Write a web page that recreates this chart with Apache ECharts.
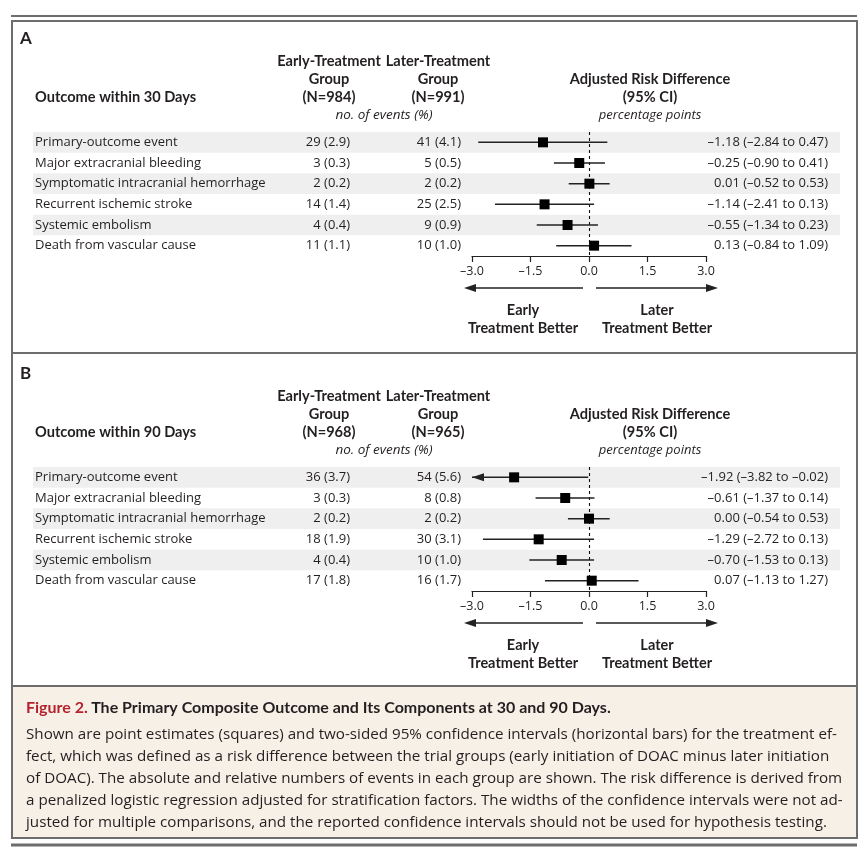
<!DOCTYPE html>
<html><head><meta charset="utf-8">
<script src="https://cdn.jsdelivr.net/npm/echarts@6/dist/echarts.min.js"></script>
<style>html,body{margin:0;padding:0;background:#fff}#c{width:865px;height:855px}</style>
</head><body><div id="c"></div>
<script>
// ---------- data ----------
const outcomes = ['Primary-outcome event','Major extracranial bleeding','Symptomatic intracranial hemorrhage','Recurrent ischemic stroke','Systemic embolism','Death from vascular cause'];
// Panel A: 30 days
const earlyEventsA = [29,3,2,14,4,11];
const earlyPctA    = [2.9,0.3,0.2,1.4,0.4,1.1];
const laterEventsA = [41,5,2,25,9,10];
const laterPctA    = [4.1,0.5,0.2,2.5,0.9,1.0];
const estA = [-1.18,-0.25,0.01,-1.14,-0.55,0.13];
const loA  = [-2.84,-0.90,-0.52,-2.41,-1.34,-0.84];
const hiA  = [0.47,0.41,0.53,0.13,0.23,1.09];
// Panel B: 90 days
const earlyEventsB = [36,3,2,18,4,17];
const earlyPctB    = [3.7,0.3,0.2,1.9,0.4,1.8];
const laterEventsB = [54,8,2,30,10,16];
const laterPctB    = [5.6,0.8,0.2,3.1,1.0,1.7];
const estB = [-1.92,-0.61,0.00,-1.29,-0.70,0.07];
const loB  = [-3.82,-1.37,-0.54,-2.72,-1.53,-1.13];
const hiB  = [-0.02,0.14,0.53,0.13,0.13,1.27];
// axis
const tickValues = [-3,-1.5,0,1.5,3];
const tickLabels = ['–3.0','–1.5','0.0','1.5','3.0'];
const nA = [984,991];
const nB = [968,965];

// ---------- styles ----------
const FR = '"Open Sans", "Noto Sans", sans-serif';
const FB = 'Lato, "DejaVu Sans Condensed", sans-serif';
const FC = '"Open Sans", "Noto Sans", sans-serif';
const TXT = '#231f20';
const HB = 'bold 14.6px ' + FB;
const fmtCount = (n,p) => n + ' (' + p.toFixed(1) + ')';
const d2 = v => (v < 0 ? '–' : '') + Math.abs(v).toFixed(2);
const fmtCI = (e,l,h) => d2(e) + ' (' + d2(l) + ' to ' + d2(h) + ')';

const panels = [
  {ee:earlyEventsA, ep:earlyPctA, le:laterEventsA, lp:laterPctA, est:estA, lo:loA, hi:hiA, top:132, n:nA, days:30, letter:'A', off:0},
  {ee:earlyEventsB, ep:earlyPctB, le:laterEventsB, lp:laterPctB, est:estB, lo:loB, hi:hiB, top:467, n:nB, days:90, letter:'B', off:335}
];

function t(x,y,text,align,opts){
  return {type:'text', x:x, y:y, style:Object.assign({text:text, fill:TXT, font:'13px '+FR, textAlign:align||'left', textVerticalAlign:'middle'}, opts||{})};
}

const grids=[], xAxes=[], yAxes=[], series=[], graphics=[];
panels.forEach((p,gi)=>{
  grids.push({left:472, width:234, top:p.top, height:124});
  xAxes.push({type:'value', gridIndex:gi, min:-3, max:3, interval:1.5,
    axisLine:{show:true, lineStyle:{color:'#222', width:1.2}},
    axisTick:{show:true, length:6, lineStyle:{color:'#222', width:1.2}},
    splitLine:{show:false},
    axisLabel:{margin:9, fontSize:12.5, fontFamily:FR, color:TXT,
      formatter:v=>{const k=tickValues.findIndex(tv=>Math.abs(tv-v)<1e-9); return k>=0?tickLabels[k]:'';}}});
  yAxes.push({type:'category', gridIndex:gi, inverse:true, data:outcomes.map((o,i)=>i), show:false});
  // row texts + bands
  series.push({type:'custom', xAxisIndex:gi, yAxisIndex:gi, clip:false, z:1, silent:true,
    data: outcomes.map((o,i)=>[0,i]),
    encode:{x:0,y:1},
    renderItem:(params, api)=>{
      const i = api.value(1);
      const y = api.coord([0,i])[1];
      const h = api.size([0,1])[1];
      const ch = [];
      if (i%2===0) ch.push({type:'rect', shape:{x:33, y:y-h/2, width:807, height:h}, style:{fill:'#efefef'}});
      ch.push(t(35,y,outcomes[i],'left'));
      ch.push(t(350,y,fmtCount(p.ee[i],p.ep[i]),'right'));
      ch.push(t(461,y,fmtCount(p.le[i],p.lp[i]),'right'));
      ch.push(t(828,y,fmtCI(p.est[i],p.lo[i],p.hi[i]),'right'));
      return {type:'group', children:ch};
    }});
  // CI lines
  series.push({type:'custom', xAxisIndex:gi, yAxisIndex:gi, clip:false, z:3, silent:true,
    data: outcomes.map((o,i)=>[i,p.lo[i],p.hi[i]]),
    encode:{x:[1,2], y:0},
    renderItem:(params, api)=>{
      const i=api.value(0), lo=api.value(1), hi=api.value(2);
      const lo2=Math.max(lo,-3);
      const a=api.coord([lo2,i]), b=api.coord([hi,i]);
      const ch=[{type:'line', shape:{x1:a[0],y1:a[1],x2:b[0],y2:b[1]}, style:{stroke:'#222', lineWidth:1.5}}];
      if (lo < -3) ch.push({type:'polygon', shape:{points:[[a[0],a[1]],[a[0]+12,a[1]-4],[a[0]+12,a[1]+4]]}, style:{fill:'#222'}});
      return {type:'group', children:ch};
    }});
  // squares
  series.push({type:'scatter', xAxisIndex:gi, yAxisIndex:gi, z:4, silent:true, symbol:'rect', symbolSize:10,
    itemStyle:{color:'#000', opacity:1},
    data: outcomes.map((o,i)=>[p.est[i], i]),
    markLine:{silent:true, symbol:['none','none'], label:{show:false}, z:2,
      lineStyle:{type:[3,3], color:'#111', width:1.1}, data:[{xAxis:0}]}});

  const o = p.off;
  graphics.push(t(20, 39+o, p.letter, 'left', {font:'bold 17px '+FB}));
  graphics.push(t(35, 97+o, 'Outcome within '+p.days+' Days', 'left', {font:HB}));
  graphics.push(t(329, 61+o, 'Early-Treatment', 'center', {font:HB}));
  graphics.push(t(329, 79+o, 'Group', 'center', {font:HB}));
  graphics.push(t(329, 97+o, '(N='+p.n[0]+')', 'center', {font:HB}));
  graphics.push(t(438, 61+o, 'Later-Treatment', 'center', {font:HB}));
  graphics.push(t(438, 79+o, 'Group', 'center', {font:HB}));
  graphics.push(t(438, 97+o, '(N='+p.n[1]+')', 'center', {font:HB}));
  graphics.push(t(384, 115+o, 'no. of events (%)', 'center', {font:'italic 13.5px '+FR}));
  graphics.push(t(650, 79+o, 'Adjusted Risk Difference', 'center', {font:HB}));
  graphics.push(t(650, 97+o, '(95% CI)', 'center', {font:HB}));
  graphics.push(t(650, 115+o, 'percentage points', 'center', {font:'italic 13px '+FR}));
  // direction arrows
  const ay = 288+o;
  graphics.push({type:'line', shape:{x1:583,y1:ay,x2:470,y2:ay}, style:{stroke:'#222', lineWidth:1.3}});
  graphics.push({type:'polygon', shape:{points:[[464,ay],[476,ay-4],[476,ay+4]]}, style:{fill:'#222'}});
  graphics.push({type:'line', shape:{x1:596,y1:ay,x2:712,y2:ay}, style:{stroke:'#222', lineWidth:1.3}});
  graphics.push({type:'polygon', shape:{points:[[718,ay],[706,ay-4],[706,ay+4]]}, style:{fill:'#222'}});
  graphics.push(t(523, 310+o, 'Early', 'center', {font:'bold 14.5px '+FB}));
  graphics.push(t(523, 328+o, 'Treatment Better', 'center', {font:'bold 14.5px '+FB}));
  graphics.push(t(657, 310+o, 'Later', 'center', {font:'bold 14.5px '+FB}));
  graphics.push(t(657, 328+o, 'Treatment Better', 'center', {font:'bold 14.5px '+FB}));
});

// frames
const BC = '#6d6d6d';
graphics.push({type:'rect', shape:{x:12,y:686,width:845,height:152}, style:{fill:'#f6f0e7'}, z:-1});
graphics.push({type:'line', shape:{x1:11,y1:16,x2:857,y2:16}, style:{stroke:BC, lineWidth:2}});
graphics.push({type:'rect', shape:{x:12,y:21,width:845,height:817}, style:{fill:'none', stroke:BC, lineWidth:2}});
graphics.push({type:'line', shape:{x1:12,y1:353,x2:857,y2:353}, style:{stroke:BC, lineWidth:2}});
graphics.push({type:'line', shape:{x1:12,y1:686,x2:857,y2:686}, style:{stroke:BC, lineWidth:2}});
graphics.push({type:'line', shape:{x1:11,y1:845,x2:857,y2:845}, style:{stroke:BC, lineWidth:3}});

// caption
const capTitle = 'The Primary Composite Outcome and Its Components at 30 and 90 Days.';
const capLines = [
  'Shown are point estimates (squares) and two-sided 95% confidence intervals (horizontal bars) for the treatment ef-',
  'fect, which was defined as a risk difference between the trial groups (early initiation of DOAC minus later initiation',
  'of DOAC). The absolute and relative numbers of events in each group are shown. The risk difference is derived from',
  'a penalized logistic regression adjusted for stratification factors. The widths of the confidence intervals were not ad-',
  'justed for multiple comparisons, and the reported confidence intervals should not be used for hypothesis testing.'
];
graphics.push({type:'text', x:26, y:708, style:{
  text:'{r|Figure 2.} {b|'+capTitle+'}', textVerticalAlign:'middle',
  rich:{r:{fill:'#b5232f', font:'bold 16px '+FB}, b:{fill:TXT, font:'bold 16px '+FB}}}});
capLines.forEach((l,k)=>graphics.push(t(26, 735+22*k, l, 'left', {font:'15.2px '+FC})));

const chart = echarts.init(document.getElementById('c'), null, {renderer:'canvas'});
chart.setOption({animation:false, backgroundColor:'#fff', grid:grids, xAxis:xAxes, yAxis:yAxes, series:series, graphic:{elements:graphics}});
</script></body></html>
